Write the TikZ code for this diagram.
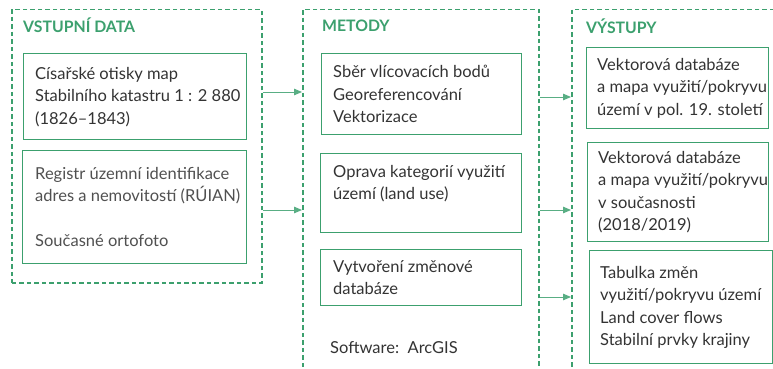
\documentclass[tikz,border=0pt]{standalone}
\usepackage{fontspec}
\setmainfont{Lato}
\usetikzlibrary{arrows.meta}
\definecolor{zelena}{HTML}{3CA06E}
\definecolor{sedy}{HTML}{333333}
\definecolor{svetlesedy}{HTML}{505050}

\begin{document}
\begin{tikzpicture}[x=1pt,y=-1pt]

  \tikzstyle{every node}=[font=\fontsize{16.5}{22.5}\selectfont,align=left,text=sedy]
  \tikzstyle{skupina}=[draw=zelena,dash pattern=on 4.5pt off 3pt,line width=1.5pt,anchor=north west,inner sep=0pt]
  \tikzstyle{box}=[draw=zelena,line width=1.4pt,anchor=north west,inner sep=0pt]
  \tikzstyle{popis}=[anchor=west,inner sep=0pt]
  \tikzstyle{nadpis}=[text=zelena,font=\fontsize{15.8}{18}\selectfont\bfseries,anchor=base west,inner sep=0pt]
  \tikzstyle{sipka}=[draw=zelena!85,line width=1pt,-{Triangle[length=8pt,width=6.5pt]}]

  \clip (0,0) rectangle (773,369);

  % skupiny
  \node[skupina,minimum width=250,minimum height=273] (vstup) at (11,9) {};
  \node[skupina,minimum width=236,minimum height=420] (metody) at (302,9) {};
  \node[skupina,minimum width=240,minimum height=420] (vystup) at (571,9) {};

  \node[nadpis] (nvstup) at (23,33) {VSTUPNÍ DATA};
  \node[nadpis] (nmetody) at (322,32) {METODY};
  \node[nadpis] (nvystup) at (586,34) {VÝSTUPY};

  % vstupni data
  \node[box,minimum width=223,minimum height=86] (cisar) at (23,53) {};
  \node[popis] (tcisar) at ([xshift=12]cisar.west)
    {Císařské otisky map \\ Stabilního katastru 1 : 2 880 \\ (1826–1843)};
  \node[box,minimum width=224,minimum height=113] (ruian) at (22,150) {};
  \node[popis,text=svetlesedy] (truian) at ([xshift=13]ruian.west)
    {Registr územní identifikace \\ adres a nemovitostí (RÚIAN) \\[22.5pt] Současné ortofoto};

  % metody
  \node[box,minimum width=200,minimum height=81] (sber) at (321,53) {};
  \node[popis] (tsber) at ([xshift=12]sber.west)
    {Sběr vlícovacích bodů \\ Georeferencování \\ Vektorizace};
  \node[box,minimum width=201,minimum height=79] (oprava) at (320,153) {};
  \node[popis,anchor=north west] (toprava) at ([xshift=13,yshift=-12]oprava.north west)
    {Oprava kategorií využití \\ území (land use)};
  \node[box,minimum width=201,minimum height=56] (zmeny) at (320,249) {};
  \node[popis] (tzmeny) at ([xshift=13]zmeny.west)
    {Vytvoření změnové \\ databáze};
  \node[popis] (software) at (330,348) {Software:\ \ ArcGIS};

  % vystupy
  \node[box,minimum width=182,minimum height=81] (vek19) at (586,47) {};
  \node[popis] (tvek19) at ([xshift=11]vek19.west)
    {Vektorová databáze \\ a mapa využití/pokryvu \\ území v pol. 19. století};
  \node[box,minimum width=181,minimum height=99] (vekdnes) at (587,142) {};
  \node[popis] (tvekdnes) at ([xshift=11]vekdnes.west)
    {Vektorová databáze \\ a mapa využití/pokryvu \\ v současnosti \\ (2018/2019)};
  \node[box,minimum width=183,minimum height=113] (tabulka) at (589,250) {};
  \node[popis] (ttabulka) at ([xshift=11]tabulka.west)
    {Tabulka změn \\ využití/pokryvu území \\ Land cover flows \\ Stabilní prvky krajiny};

  \foreach \y/\odkud/\kam in {92/vstup/metody,210/vstup/metody,97/metody/vystup,210/metody/vystup,297/metody/vystup}
    \draw[sipka] (\odkud.east |- 0,\y) -- (\kam.west |- 0,\y);

\end{tikzpicture}
\end{document}
